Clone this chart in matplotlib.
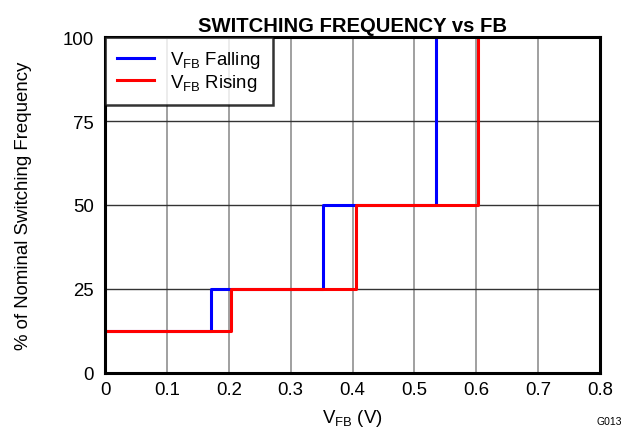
import matplotlib
matplotlib.use("Agg")
import matplotlib.pyplot as plt

plt.rcParams['font.family'] = ['Liberation Sans', 'DejaVu Sans']
plt.rcParams['mathtext.fontset'] = 'custom'
plt.rcParams['mathtext.rm'] = 'Liberation Sans'
plt.rcParams['mathtext.it'] = 'Liberation Sans:italic'
plt.rcParams['mathtext.bf'] = 'Liberation Sans:bold'

falling_x = [0.0, 0.172, 0.352, 0.535]
falling_y = [12.5, 25, 50, 100]
rising_x = [0.0, 0.203, 0.405, 0.603]
rising_y = [12.5, 25, 50, 100]
xticks = [0, 0.1, 0.2, 0.3, 0.4, 0.5, 0.6, 0.7, 0.8]
xticklabels = ['0', '0.1', '0.2', '0.3', '0.4', '0.5', '0.6', '0.7', '0.8']
yticks = [0, 25, 50, 75, 100]

fig = plt.figure(figsize=(6.35, 4.31), dpi=100)
ax = fig.add_axes([0.1654, 0.1323, 0.7795, 0.7795])

for x in xticks[1:-1]:
    ax.axvline(x, color='#999999', lw=1.3, zorder=1)
for y in yticks[1:-1]:
    ax.axhline(y, color='#333333', lw=1.0, zorder=1)

ax.plot(falling_x, falling_y, drawstyle='steps-post', color='#0000ff', lw=2.2,
        label=r'V$_{\mathrm{FB}}$ Falling', zorder=3)
ax.plot(rising_x, rising_y, drawstyle='steps-post', color='#ff0000', lw=2.2,
        label=r'V$_{\mathrm{FB}}$ Rising', zorder=4)

ax.set_xlim(0, 0.8)
ax.set_ylim(0, 100)
ax.set_xticks(xticks)
ax.set_xticklabels(xticklabels)
ax.set_yticks(yticks)
ax.tick_params(length=0, labelsize=13.4)
ax.tick_params(axis='y', pad=8)
ax.tick_params(axis='x', pad=6)
for s in ax.spines.values():
    s.set_linewidth(2.2)
    s.set_color('black')
    s.set_zorder(5)

ax.set_xlabel(r'V$_{\mathrm{FB}}$ (V)', fontsize=13.4, labelpad=6)
ax.set_ylabel('% of Nominal Switching Frequency', fontsize=13.4, labelpad=22)
ax.set_title('SWITCHING FREQUENCY vs FB', fontsize=14.6, fontweight='bold', pad=4)

leg = ax.legend(loc='upper left', borderaxespad=0, fancybox=False, fontsize=13.4,
                handlelength=2.0, labelspacing=0.1, borderpad=0.65, handletextpad=0.85)
leg.get_frame().set_edgecolor('black')
leg.get_frame().set_linewidth(1.8)
leg.set_zorder(6)

fig.text(0.98, 0.01, 'G013', fontsize=7.5, ha='right', va='bottom')

fig.savefig('out.png', dpi=100)
